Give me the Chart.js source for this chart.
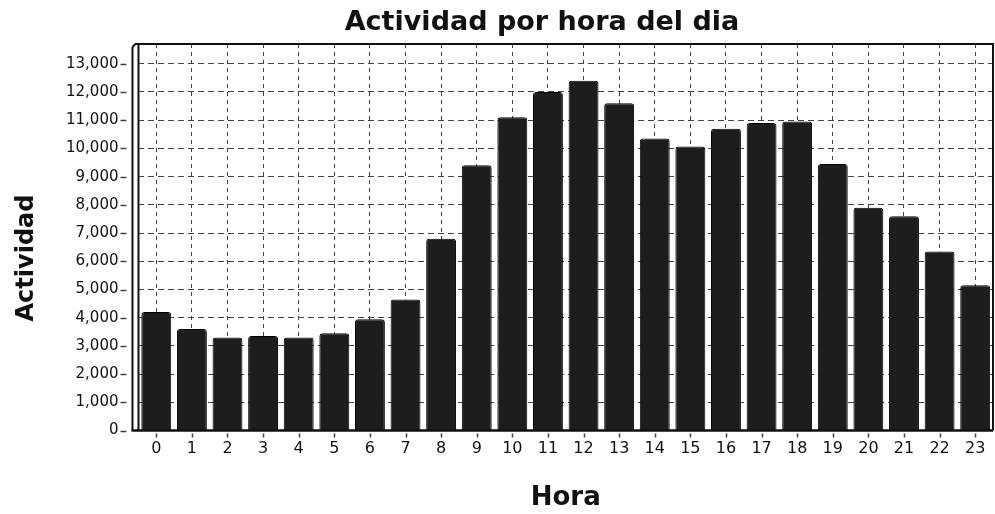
<!DOCTYPE html>
<html>
<head>
<meta charset="utf-8">
<script src="https://cdn.jsdelivr.net/npm/chart.js@4"></script>
<style>
  html, body { margin: 0; padding: 0; background: #fff; }
  #wrap { width: 995px; height: 514px; }
</style>
</head>
<body>
<div id="wrap"><canvas id="horaChart" width="995" height="514"></canvas></div>
<script>
// actividad registrada en cada hora del dia
const horas = ['0','1','2','3','4','5','6','7','8','9','10','11','12','13','14','15','16','17','18','19','20','21','22','23'];
const actividad = [4200, 3600, 3300, 3350, 3300, 3450, 3950, 4650, 6800, 9400, 11100, 12000, 12400, 11600,
  10350, 10070, 10700, 10900, 10950, 9450, 7900, 7600, 6350, 5150];
const marcasY = [0, 1000, 2000, 3000, 4000, 5000, 6000, 7000, 8000, 9000, 10000, 11000, 12000, 13000];
const yMax = 13700;
const titulo = 'Actividad por hora del dia';
const tituloY = 'Actividad';

// titulo general y titulo del eje vertical, colocados a mano
const textos = {
  id: 'textos',
  afterDraw(chart) {
    const { ctx } = chart;
    ctx.save();
    ctx.fillStyle = '#111';
    ctx.textAlign = 'center';
    ctx.textBaseline = 'middle';
    ctx.font = 'bold 27px "DejaVu Sans"';
    ctx.fillText(titulo, 542, 23);
    ctx.translate(27, 258);
    ctx.rotate(-Math.PI / 2);
    ctx.font = 'bold 24px "DejaVu Sans"';
    ctx.fillText(tituloY, 0, 0);
    ctx.restore();
  }
};

// marco del grafico: borde superior/derecho, doble linea del eje vertical y marcas de los ejes
const marco = {
  id: 'marco',
  afterDatasetsDraw(chart) {
    const { ctx, chartArea: a, scales } = chart;
    ctx.save();
    ctx.strokeStyle = '#111';
    ctx.lineWidth = 2;
    ctx.beginPath();
    ctx.moveTo(a.left - 6, a.top + 3);
    ctx.lineTo(a.left - 3, a.top);
    ctx.lineTo(a.right, a.top);
    ctx.lineTo(a.right, a.bottom);
    ctx.stroke();
    ctx.beginPath();
    ctx.moveTo(a.left - 6, a.top + 3);
    ctx.lineTo(a.left - 6, a.bottom);
    ctx.moveTo(a.left, a.top);
    ctx.lineTo(a.left, a.bottom);
    ctx.stroke();
    ctx.lineWidth = 2.5;
    ctx.beginPath();
    ctx.moveTo(a.left - 7, a.bottom);
    ctx.lineTo(a.right, a.bottom);
    ctx.stroke();
    // marcas cortas de los ejes
    ctx.lineWidth = 1.5;
    ctx.strokeStyle = '#444';
    ctx.beginPath();
    scales.y.ticks.forEach(t => {
      const py = Math.round(scales.y.getPixelForValue(t.value)) + 0.5;
      ctx.moveTo(a.left - 18, py);
      ctx.lineTo(a.left - 12, py);
    });
    scales.x.ticks.forEach((t, i) => {
      const px = Math.round(scales.x.getPixelForValue(i)) + 0.5;
      ctx.moveTo(px, a.bottom + 3);
      ctx.lineTo(px, a.bottom + 7);
    });
    ctx.stroke();
    ctx.restore();
  }
};

new Chart(document.getElementById('horaChart'), {
  type: 'bar',
  data: {
    labels: horas,
    datasets: [{
      label: 'Actividad',
      data: actividad,
      backgroundColor: '#1d1d1d',
      borderColor: '#000',
      borderWidth: 1,
      borderRadius: { topLeft: 3, topRight: 3 },
      borderSkipped: 'bottom',
      barPercentage: 0.84,
      categoryPercentage: 1
    }]
  },
  options: {
    responsive: false,
    animation: false,
    layout: { padding: { top: 44, right: 2, bottom: 0, left: 46 } },
    plugins: {
      legend: { display: false },
      tooltip: { enabled: false },
      title: { display: false }
    },
    scales: {
      x: {
        grid: {
          offset: false,
          color: '#444',
          lineWidth: 1,
          drawTicks: false
        },
        border: { display: false, dash: [4, 4] },
        ticks: {
          color: '#111',
          font: { family: 'DejaVu Sans', size: 16 },
          padding: 9,
          maxRotation: 0,
          autoSkip: false
        },
        title: {
          display: true,
          text: 'Hora',
          color: '#111',
          font: { family: 'DejaVu Sans', size: 26, weight: 'bold' },
          padding: { top: 15, bottom: 0 }
        }
      },
      y: {
        min: 0,
        max: yMax,
        afterBuildTicks(scale) {
          scale.ticks = marcasY.map(v => ({ value: v }));
        },
        grid: {
          color: '#444',
          lineWidth: 1,
          drawTicks: false
        },
        border: { display: false, dash: [6, 4] },
        ticks: {
          color: '#111',
          font: { family: 'DejaVu Sans', size: 15 },
          padding: 20,
          autoSkip: false,
          callback: v => v.toLocaleString('en-US')
        }
      }
    }
  },
  plugins: [marco, textos]
});
</script>
</body>
</html>
